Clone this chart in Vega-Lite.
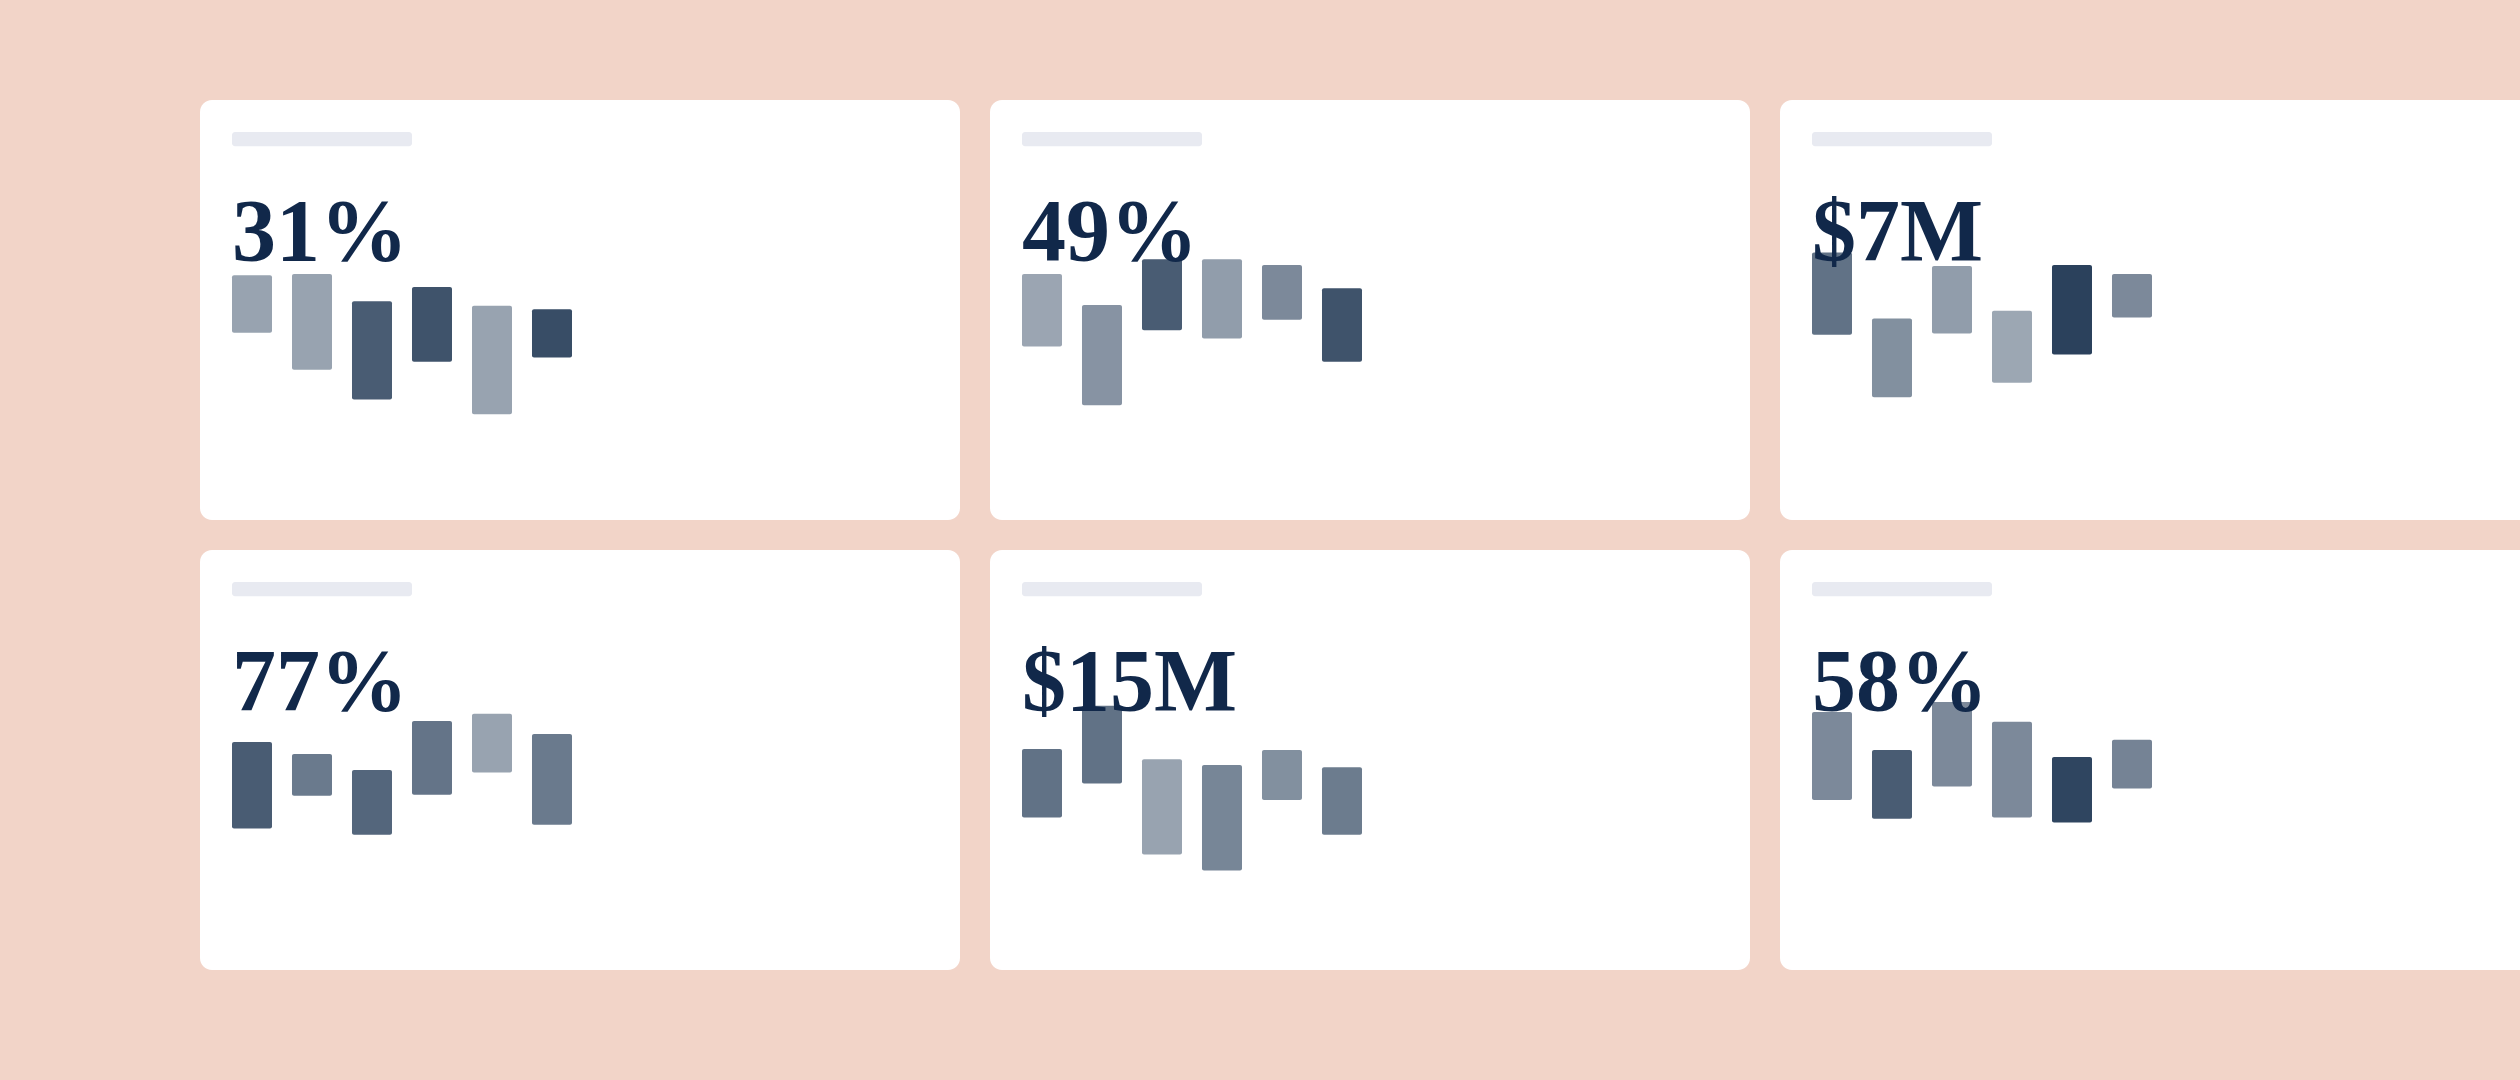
{
  "$schema": "https://vega.github.io/schema/vega-lite/v6.json",
  "description": "Six KPI cards, each with a headline figure and six floating range bars.",
  "background": "#f2d4c8",
  "padding": {"left": 200, "top": 100, "right": 0, "bottom": 110},

  "data": {
    "values": [
      {"row": 1, "col": 1, "label": "31%", "bar": 1, "high": 58.3, "low": 44.6, "shade": 0.47},
      {"row": 1, "col": 1, "label": "31%", "bar": 2, "high": 58.6, "low": 35.8, "shade": 0.47},
      {"row": 1, "col": 1, "label": "31%", "bar": 3, "high": 52.1, "low": 28.7, "shade": 0.83},
      {"row": 1, "col": 1, "label": "31%", "bar": 4, "high": 55.5, "low": 37.7, "shade": 0.88},
      {"row": 1, "col": 1, "label": "31%", "bar": 5, "high": 51.0, "low": 25.2, "shade": 0.47},
      {"row": 1, "col": 1, "label": "31%", "bar": 6, "high": 50.2, "low": 38.7, "shade": 0.91},

      {"row": 1, "col": 2, "label": "49%", "bar": 1, "high": 58.6, "low": 41.3, "shade": 0.46},
      {"row": 1, "col": 2, "label": "49%", "bar": 2, "high": 51.2, "low": 27.3, "shade": 0.55},
      {"row": 1, "col": 2, "label": "49%", "bar": 3, "high": 62.1, "low": 45.2, "shade": 0.83},
      {"row": 1, "col": 2, "label": "49%", "bar": 4, "high": 62.1, "low": 43.2, "shade": 0.5},
      {"row": 1, "col": 2, "label": "49%", "bar": 5, "high": 60.7, "low": 47.7, "shade": 0.6},
      {"row": 1, "col": 2, "label": "49%", "bar": 6, "high": 55.2, "low": 37.7, "shade": 0.88},

      {"row": 1, "col": 3, "label": "$7M", "bar": 1, "high": 63.7, "low": 44.1, "shade": 0.72},
      {"row": 1, "col": 3, "label": "$7M", "bar": 2, "high": 48.0, "low": 29.2, "shade": 0.57},
      {"row": 1, "col": 3, "label": "$7M", "bar": 3, "high": 60.5, "low": 44.4, "shade": 0.5},
      {"row": 1, "col": 3, "label": "$7M", "bar": 4, "high": 49.8, "low": 32.7, "shade": 0.45},
      {"row": 1, "col": 3, "label": "$7M", "bar": 5, "high": 60.7, "low": 39.4, "shade": 0.97},
      {"row": 1, "col": 3, "label": "$7M", "bar": 6, "high": 58.6, "low": 48.2, "shade": 0.6},

      {"row": 2, "col": 1, "label": "77%", "bar": 1, "high": 54.3, "low": 33.7, "shade": 0.83},
      {"row": 2, "col": 1, "label": "77%", "bar": 2, "high": 51.4, "low": 41.5, "shade": 0.68},
      {"row": 2, "col": 1, "label": "77%", "bar": 3, "high": 47.6, "low": 32.2, "shade": 0.78},
      {"row": 2, "col": 1, "label": "77%", "bar": 4, "high": 59.3, "low": 41.7, "shade": 0.71},
      {"row": 2, "col": 1, "label": "77%", "bar": 5, "high": 61.0, "low": 47.0, "shade": 0.47},
      {"row": 2, "col": 1, "label": "77%", "bar": 6, "high": 56.2, "low": 34.6, "shade": 0.68},

      {"row": 2, "col": 2, "label": "$15M", "bar": 1, "high": 52.6, "low": 36.3, "shade": 0.72},
      {"row": 2, "col": 2, "label": "$15M", "bar": 2, "high": 62.9, "low": 44.4, "shade": 0.72},
      {"row": 2, "col": 2, "label": "$15M", "bar": 3, "high": 50.2, "low": 27.5, "shade": 0.47},
      {"row": 2, "col": 2, "label": "$15M", "bar": 4, "high": 48.8, "low": 23.7, "shade": 0.62},
      {"row": 2, "col": 2, "label": "$15M", "bar": 5, "high": 52.4, "low": 40.5, "shade": 0.57},
      {"row": 2, "col": 2, "label": "$15M", "bar": 6, "high": 48.3, "low": 32.2, "shade": 0.67},

      {"row": 2, "col": 3, "label": "58%", "bar": 1, "high": 61.4, "low": 40.5, "shade": 0.6},
      {"row": 2, "col": 3, "label": "58%", "bar": 2, "high": 52.4, "low": 36.0, "shade": 0.83},
      {"row": 2, "col": 3, "label": "58%", "bar": 3, "high": 63.8, "low": 43.7, "shade": 0.6},
      {"row": 2, "col": 3, "label": "58%", "bar": 4, "high": 59.1, "low": 36.3, "shade": 0.6},
      {"row": 2, "col": 3, "label": "58%", "bar": 5, "high": 50.7, "low": 35.1, "shade": 0.95},
      {"row": 2, "col": 3, "label": "58%", "bar": 6, "high": 54.8, "low": 43.2, "shade": 0.63}
    ]
  },

  "facet": {
    "row": {"field": "row", "type": "ordinal", "title": null, "header": {"labels": false}},
    "column": {"field": "col", "type": "ordinal", "title": null, "header": {"labels": false}}
  },
  "spacing": {"row": 30, "column": 30},

  "spec": {
    "width": 760,
    "height": 420,
    "resolve": {"scale": {"x": "independent"}},
    "layer": [
      {
        "transform": [{"filter": "datum.bar === 1"}],
        "mark": {"type": "rect", "color": "#e8eaf1", "cornerRadius": 3},
        "encoding": {
          "x": {"datum": 0, "type": "quantitative", "axis": null, "scale": {"domain": [0, 3], "range": [32, 212]}},
          "x2": {"datum": 3},
          "y": {"datum": 92.4, "type": "quantitative", "axis": null, "scale": {"domain": [0, 100]}},
          "y2": {"datum": 89.0}
        }
      },
      {
        "encoding": {
          "x": {
            "field": "bar",
            "type": "ordinal",
            "axis": null,
            "scale": {"domain": [1, 2, 3, 4, 5, 6], "range": [32, 372], "paddingInner": 0.33333, "paddingOuter": 0}
          }
        },
        "layer": [
          {
            "mark": {"type": "bar", "color": "#243b57", "cornerRadius": 2},
            "encoding": {
              "y": {"field": "high", "type": "quantitative", "axis": null, "scale": {"domain": [0, 100]}},
              "y2": {"field": "low"},
              "opacity": {"field": "shade", "type": "quantitative", "scale": null, "legend": null}
            }
          },
          {
            "transform": [{"filter": "datum.bar === 1"}],
            "mark": {
              "type": "text",
              "font": "Liberation Serif",
              "fontWeight": "bold",
              "fontSize": 88,
              "color": "#11284a",
              "align": "left",
              "baseline": "alphabetic"
            },
            "encoding": {
              "x": {"field": "bar", "type": "ordinal", "bandPosition": 0},
              "y": {"datum": 61.9, "type": "quantitative"},
              "text": {"field": "label"}
            }
          }
        ]
      }
    ]
  },

  "config": {
    "view": {"fill": "white", "stroke": null, "cornerRadius": 12}
  }
}
